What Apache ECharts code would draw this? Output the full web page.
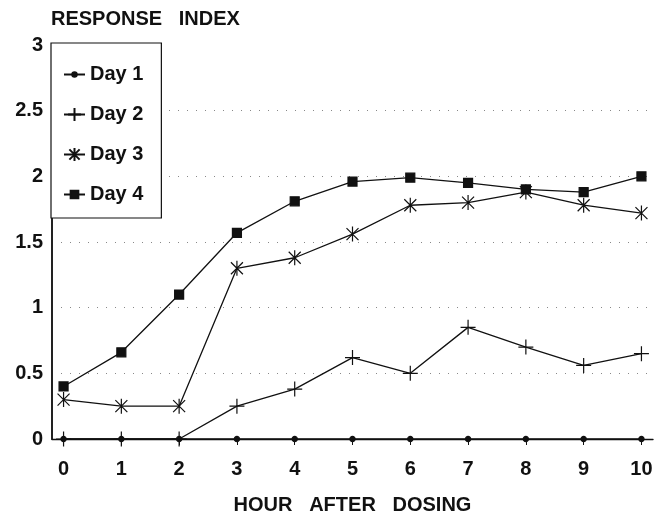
<!DOCTYPE html>
<html>
<head>
<meta charset="utf-8">
<script src="https://cdn.jsdelivr.net/npm/echarts@6/dist/echarts.min.js"></script>
<style>
  html, body { margin: 0; padding: 0; background: #fff; }
  #chart { width: 663px; height: 516px; }
</style>
</head>
<body>
<div id="chart"></div>
<script>
// hours after dosing (x ticks)
const hours = [0, 1, 2, 3, 4, 5, 6, 7, 8, 9, 10];
const yTicks = [0, 0.5, 1, 1.5, 2, 2.5, 3];

const day1 = [0, 0, 0, 0, 0, 0, 0, 0, 0, 0, 0];
const day2 = [0, 0, 0, 0.25, 0.38, 0.62, 0.5, 0.85, 0.7, 0.56, 0.65];
const day3 = [0.3, 0.25, 0.25, 1.3, 1.38, 1.56, 1.78, 1.8, 1.88, 1.78, 1.72];
const day4 = [0.4, 0.66, 1.1, 1.57, 1.81, 1.96, 1.99, 1.95, 1.9, 1.88, 2.0];

const seriesNames = ["Day 1", "Day 2", "Day 3", "Day 4"];

const FONT = "Liberation Sans";
const INK = "#111";

// symbols: M points at the corners keep a common box so legend + chart sizes line up
const symDot = "path://M-1,-1M1,1M0.35,0A0.35,0.35,0,1,1,-0.35,0A0.35,0.35,0,1,1,0.35,0Z";
const symPlus = "path://M0,-1L0,1M-1,0L1,0";
const symStar = "path://M-1,-1M1,1M0,-1L0,1M-0.8,-0.8L0.8,0.8M-0.8,0.8L0.8,-0.8";
const symSquare = "path://M-1,-1M1,1M-0.6,-0.6L0.6,-0.6L0.6,0.6L-0.6,0.6Z";

const pairs = (ys) => ys.map((v, i) => [hours[i], v]);

const mkSeries = (name, ys, symbol, size, fill) => ({
  name,
  type: "line",
  data: pairs(ys),
  symbol,
  symbolSize: size,
  showAllSymbol: true,
  lineStyle: { color: INK, width: 1.3 },
  itemStyle: { color: fill, borderColor: INK, borderWidth: 1.2 },
  emphasis: { disabled: true },
  z: 3,
});

const chart = echarts.init(document.getElementById("chart"), null, { renderer: "canvas" });

const bold = (size) => ({ fontFamily: FONT, fontWeight: "bold", fontSize: size, color: INK });

chart.setOption({
  animation: false,
  backgroundColor: "#fff",
  title: {
    text: "RESPONSE   INDEX",
    left: 51,
    top: 9,
    padding: 0,
    textStyle: bold(20),
  },
  grid: { left: 52, right: 10, top: 45, bottom: 77, outerBoundsMode: "none" },
  legend: {
    orient: "vertical",
    left: 51,
    top: 43,
    padding: [21, 18, 13, 12],
    itemGap: 19,
    itemWidth: 21,
    itemHeight: 16,
    backgroundColor: "#fff",
    borderColor: INK,
    borderWidth: 1.2,
    borderRadius: 0,
    selectedMode: false,
    data: seriesNames,
    textStyle: Object.assign(bold(20), { lineHeight: 21 }),
    z: 10,
  },
  xAxis: {
    type: "value",
    min: -0.2,
    max: 10.2,
    name: "HOUR   AFTER   DOSING",
    nameLocation: "middle",
    nameGap: 56,
    nameTextStyle: bold(20),
    axisLine: { onZero: false, lineStyle: { color: INK, width: 1.4 } },
    axisTick: { show: true, customValues: hours, length: 6, inside: false, lineStyle: { color: INK } },
    axisLabel: Object.assign(bold(20), { customValues: hours, margin: 20 }),
    splitLine: { show: false },
  },
  yAxis: {
    type: "value",
    min: yTicks[0],
    max: yTicks[yTicks.length - 1],
    interval: 0.5,
    axisLine: { show: true, onZero: false, lineStyle: { color: "#222", width: 2 } },
    axisTick: { show: false },
    axisLabel: Object.assign(bold(20), { margin: 9 }),
    splitLine: {
      show: true,
      lineStyle: {
        color: ["transparent", "#888", "#888", "#888", "#888", "#888", "transparent"],
        type: [1, 8],
        width: 1,
      },
    },
  },
  series: [
    mkSeries("Day 1", day1, symDot, 15, INK),
    mkSeries("Day 2", day2, symPlus, 15, "none"),
    mkSeries("Day 3", day3, symStar, 15, "none"),
    mkSeries("Day 4", day4, symSquare, 15, INK),
  ],
});
</script>
</body>
</html>
